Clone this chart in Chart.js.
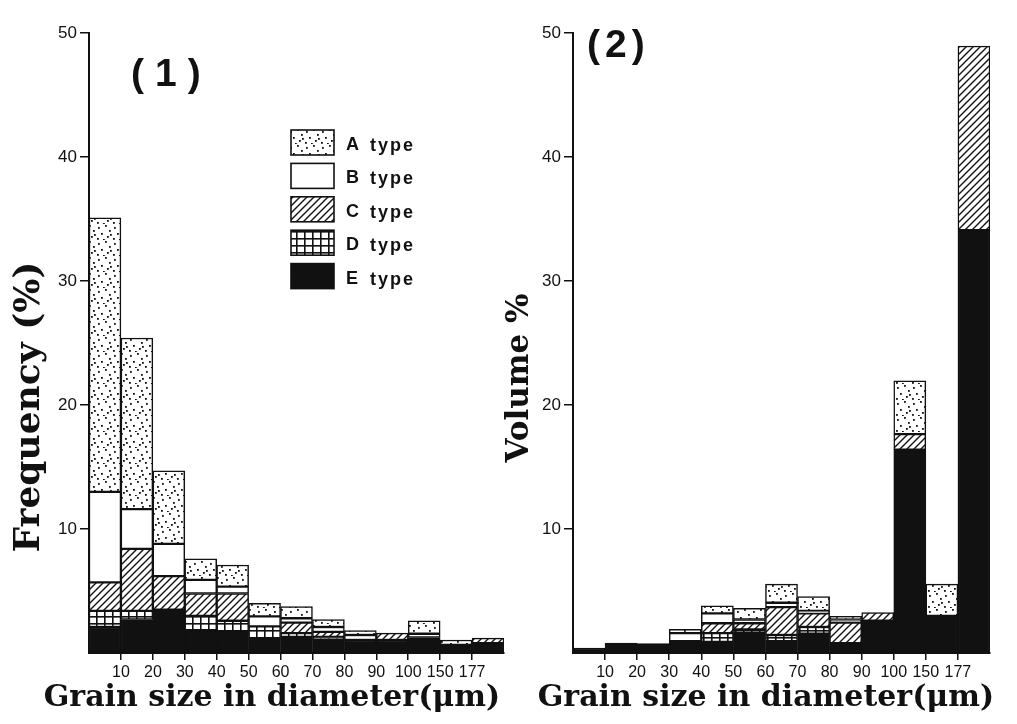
<!DOCTYPE html>
<html>
<head>
<meta charset="utf-8">
<script src="https://cdn.jsdelivr.net/npm/chart.js@4.4.0/dist/chart.umd.min.js"></script>
<style>
  html, body { margin: 0; padding: 0; background: #fff; }
  #wrap { position: relative; width: 1017px; height: 724px; overflow: hidden; }
  canvas { position: absolute; top: 0; }
  #freq-chart { left: 0; }
  #vol-chart { left: 495px; }
</style>
</head>
<body>
<div id="wrap">
  <canvas id="freq-chart" width="510" height="724"></canvas>
  <canvas id="vol-chart" width="522" height="724"></canvas>
</div>
<script>
// grain size classes, label = upper edge of the class
const sizeLabels = ["10", "20", "30", "40", "50", "60", "70", "80", "90", "100", "150", "177", ""];
const typeNames = ["A", "B", "C", "D", "E"];
const yTicks = [0, 10, 20, 30, 40, 50];

// (1) frequency %
const freqA = [22.1, 13.8, 5.9, 1.7, 1.75, 1.05, 0.95, 0.6, 0.35, null, 1.05, 0.4, null];
const freqB = [7.3, 3.2, 2.6, 1.1, 0.55, 0.8, 0.35, 0.4, 0.4, null, 0.3, null, null];
const freqC = [2.3, 5.0, 2.7, 1.8, 2.2, null, 0.85, 0.4, null, 0.55, null, null, 0.4];
const freqD = [1.3, 0.7, null, 1.15, 0.9, 0.95, 0.3, 0.2, null, null, null, null, null];
const freqE = [2.1, 2.7, 3.5, 1.85, 1.7, 1.2, 1.3, 1.1, 1.05, 1.05, 1.25, 0.65, 0.8];

// (2) volume %
const volA = [null, null, null, 0.3, 0.6, 0.9, 1.5, 1.15, 0.25, null, 4.3, 2.55, null];
const volB = [null, null, null, 0.65, 0.8, 0.3, 0.35, 0.2, 0.25, null, null, null, null];
const volC = [null, null, null, null, 0.8, 0.5, 2.25, 1.1, 1.65, 0.65, 1.25, null, 14.85];
const volD = [null, null, null, null, 0.7, 0.3, 0.5, 0.55, null, null, null, null, null];
const volE = [0.4, 0.8, 0.75, 0.95, 0.9, 1.6, 0.95, 1.55, 0.8, 2.6, 16.4, 3.0, 34.1];

const INK = '#111';
const NONE = 'rgba(0,0,0,0)';

// fill patterns
function tile(w, h, draw) {
  const c = document.createElement('canvas');
  c.width = w; c.height = h;
  const g = c.getContext('2d');
  g.fillStyle = '#fff';
  g.fillRect(0, 0, w, h);
  draw(g);
  return g.createPattern(c, 'repeat');
}
const dotFill = tile(16, 16, g => {
  g.fillStyle = INK;
  [[2, 3], [9, 1], [13, 6], [5, 9], [11, 12], [1, 14], [7, 15], [14, 10]].forEach(p => g.fillRect(p[0], p[1], 1.8, 1.8));
});
const hatchFill = tile(7, 7, g => {
  g.strokeStyle = INK;
  g.lineWidth = 1.4;
  g.beginPath();
  g.moveTo(-1, 8); g.lineTo(8, -1);
  g.moveTo(-1, 1); g.lineTo(1, -1);
  g.moveTo(6, 8); g.lineTo(8, 6);
  g.stroke();
});
const gridFill = tile(8, 7, g => {
  g.fillStyle = INK;
  g.fillRect(0, 0, 8, 1.6);
  g.fillRect(0, 0, 1.6, 7);
});
const fills = { A: dotFill, B: '#fff', C: hatchFill, D: gridFill, E: INK };

function makeDatasets(series) {
  // E at the bottom of each stack, A on top
  return ["E", "D", "C", "B", "A"].map(t => ({
    label: t + ' type',
    data: series[t],
    backgroundColor: fills[t],
    borderColor: INK,
    borderWidth: 1.5,
    borderSkipped: false,
    barPercentage: 1,
    categoryPercentage: 1
  }));
}

// text and legend drawn on top of the chart
const decor = {
  id: 'decor',
  afterDraw(chart, args, o) {
    const ctx = chart.ctx;
    ctx.save();
    ctx.fillStyle = INK;
    ctx.textBaseline = 'middle';

    ctx.font = 'bold 39px "Liberation Sans"';
    ctx.letterSpacing = o.panelSpacing;
    ctx.fillText(o.panel, o.panelX, o.panelY);
    ctx.letterSpacing = '0px';

    ctx.font = o.yFont;
    ctx.textAlign = 'center';
    ctx.save();
    ctx.translate(o.yTitleX, o.yTitleY);
    ctx.rotate(-Math.PI / 2);
    ctx.fillText(o.yTitle, 0, 0);
    ctx.restore();

    ctx.font = 'bold 30px "DejaVu Serif"';
    ctx.fillText(o.xTitle, o.xTitleX, o.xTitleY);

    if (o.legend) {
      ctx.textAlign = 'left';
      ctx.font = 'bold 18px "Liberation Sans"';
      ctx.letterSpacing = '2px';
      const ds = chart.data.datasets.slice().reverse();
      ds.forEach((d, i) => {
        const y = 130 + i * 33.4;
        ctx.fillStyle = d.backgroundColor;
        ctx.fillRect(291, y, 43, 25);
        ctx.strokeStyle = INK;
        ctx.lineWidth = 1.6;
        ctx.strokeRect(291, y, 43, 25);
        ctx.fillStyle = INK;
        ctx.fillText(typeNames[i], 346, y + 15);
        ctx.fillText('type', 370, y + 16);
      });
    }
    ctx.restore();
  }
};

function makeOptions(yWidth, padRight, extra) {
  return {
    responsive: false,
    animation: false,
    layout: { padding: { top: 33, right: padRight, left: 0, bottom: 0 } },
    scales: {
      x: {
        stacked: true,
        offset: true,
        afterFit: s => { s.height = 71; },
        border: { color: INK, width: 2 },
        grid: {
          offset: true,
          drawOnChartArea: false,
          tickLength: 7,
          lineWidth: 1.5,
          color: c => (c.index === 0 || c.tick === undefined) ? NONE : INK
        },
        ticks: {
          autoSkip: false,
          maxRotation: 0,
          labelOffset: 16,
          padding: 3,
          color: INK,
          font: { family: 'Liberation Sans', size: 16 }
        }
      },
      y: {
        stacked: true,
        min: 0,
        max: 50,
        afterFit: s => { s.width = yWidth; },
        afterBuildTicks: s => { s.ticks = yTicks.map(v => ({ value: v })); },
        border: { color: INK, width: 2 },
        grid: {
          drawOnChartArea: false,
          tickLength: 9,
          lineWidth: 1.5,
          color: c => (c.tick && c.tick.value === 0) ? NONE : INK
        },
        ticks: {
          padding: 3,
          color: INK,
          font: { family: 'Liberation Sans', size: 17 },
          callback: v => v === 0 ? '' : v
        }
      }
    },
    plugins: {
      legend: { display: false },
      tooltip: { enabled: false },
      decor: extra
    }
  };
}

new Chart(document.getElementById('freq-chart'), {
  type: 'bar',
  data: {
    labels: sizeLabels,
    datasets: makeDatasets({ A: freqA, B: freqB, C: freqC, D: freqD, E: freqE })
  },
  options: makeOptions(89, 6, {
    panel: '(1)', panelX: 131, panelY: 75, panelSpacing: '11px',
    yFont: 'bold 36px "DejaVu Serif"',
    yTitle: 'Frequency (%)', yTitleX: 30, yTitleY: 407,
    xTitle: 'Grain size in diameter(\u03bcm)', xTitleX: 272, xTitleY: 698,
    legend: true
  }),
  plugins: [decor]
});

new Chart(document.getElementById('vol-chart'), {
  type: 'bar',
  data: {
    labels: sizeLabels,
    datasets: makeDatasets({ A: volA, B: volB, C: volC, D: volD, E: volE })
  },
  options: makeOptions(78, 27, {
    panel: '(2)', panelX: 92, panelY: 46, panelSpacing: '5px',
    yFont: 'bold 31px "DejaVu Serif"',
    yTitle: 'Volume %', yTitleX: 25, yTitleY: 378,
    xTitle: 'Grain size in diameter(\u03bcm)', xTitleX: 271, xTitleY: 698,
    legend: false
  }),
  plugins: [decor]
});
</script>
</body>
</html>
